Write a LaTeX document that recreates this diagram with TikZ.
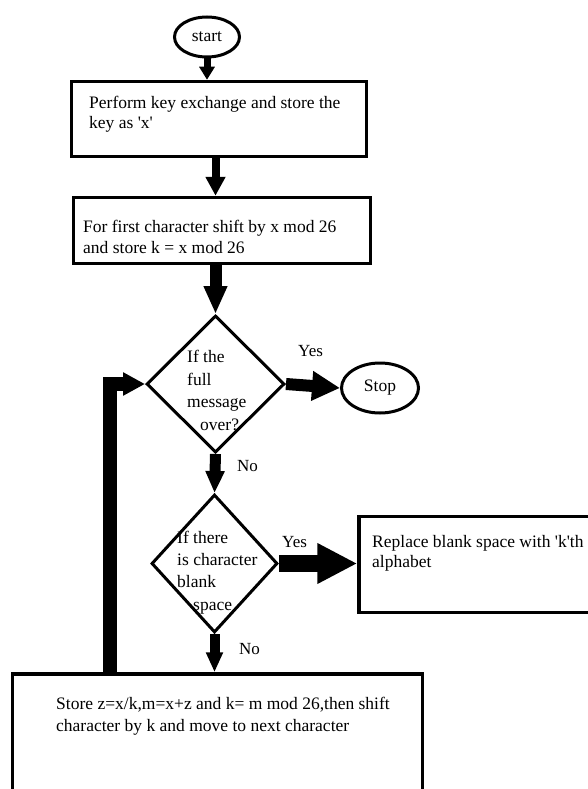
\documentclass[tikz,border=0pt]{standalone}
\usepackage{fontspec}
\setmainfont{Liberation Serif}
\usetikzlibrary{shapes.geometric,arrows.meta}

\tikzset{
  box/.style={draw, line width=3.5pt, inner sep=0pt},
  decision/.style={draw, diamond, line width=3pt, inner sep=0pt},
  terminal/.style={draw, ellipse, line width=3pt, inner sep=0pt, font=\fontsize{17.5}{20}\selectfont},
  txt/.style={anchor=base west, inner sep=0pt, align=left, font=\fontsize{17.5}{22}\selectfont},
  lbl/.style={anchor=base west, inner sep=0pt, font=\fontsize{17}{20}\selectfont},
  arr/.style n args={3}{line width=#1, -{Triangle[width=#2,length=#3]}},
}

\begin{document}
\begin{tikzpicture}[x=1pt,y=-1pt]
\useasboundingbox (0,0) rectangle (587,789);

% shapes
\node[terminal, minimum width=65pt, minimum height=40pt] (start) at (207,37) {start};
\node[box, minimum width=295pt, minimum height=75pt] (exch) at (219,119) {};
\node[box, minimum width=297pt, minimum height=66pt] (shift) at (222,230.5) {};
\node[decision, minimum width=138pt, minimum height=137pt] (full) at (215.5,384) {};
\node[terminal, minimum width=77pt, minimum height=50pt] (stop) at (380,388) {Stop};
\node[decision, minimum width=126pt, minimum height=138pt] (blank) at (214.5,563.5) {};
\node[box, minimum width=250pt, minimum height=96pt] (repl) at (484,564.5) {};
\node[box, minimum width=410pt, minimum height=150pt] (store) at (217.5,749) {};
\coordinate (loopx) at (109.5,0);

% texts (anchored on the last line)
\node[txt, font=\fontsize{17.5}{20.5}\selectfont] (t-exch) at (89,128.5) {Perform key exchange and store the\\key as {\textquotesingle}x{\textquotesingle}};
\node[txt, font=\fontsize{17.5}{21}\selectfont] (t-shift) at (83,253) {For first character shift by x mod 26\\and store k = x mod 26};
\node[txt, font=\fontsize{17.5}{22.4}\selectfont] (t-full) at (187,430) {If the\\full\\message\\\hspace*{13pt}over?};
\node[txt, font=\fontsize{17.5}{22.3}\selectfont] (t-blank) at (177,610) {If there\\is character\\blank\\\hspace*{16pt}space};
\node[txt, font=\fontsize{17.5}{20}\selectfont] (t-repl) at (372,567) {Replace blank space with {\textquotesingle}k{\textquotesingle}th\\alphabet};
\node[txt] (t-store) at (56,731) {Store z=x/k,m=x+z and k= m mod 26,then shift\\character by k and move to next character};

% labels
\node[lbl] (yes1) at (298,356) {Yes};
\node[lbl] (no1) at (237,471) {No};
\node[lbl] (yes2) at (282,547) {Yes};
\node[lbl] (no2) at (239,654) {No};

% arrows
\draw[arr={7pt}{15pt}{13pt}] (start.south) -- (start.south |- exch.north);
\draw[arr={8pt}{19pt}{19pt}] (exch.south -| full.north) -- (shift.north -| full.north);
\draw[arr={12pt}{22pt}{28pt}] (shift.south -| full.north) -- (full.north);
\draw[arr={12pt}{28pt}{28pt}] (full.east) -- (stop.west);
\draw[arr={11pt}{18pt}{22pt}] (full.south) -- (blank.north);
\draw[arr={17pt}{38pt}{40pt}] (blank.east) -- (blank.east -| repl.west);
\draw[arr={10pt}{16pt}{20pt}] (blank.south) -- (blank.south |- store.north);
\draw[arr={14pt}{22pt}{22pt}] (loopx |- store.north) |- (full.west);
\end{tikzpicture}
\end{document}
